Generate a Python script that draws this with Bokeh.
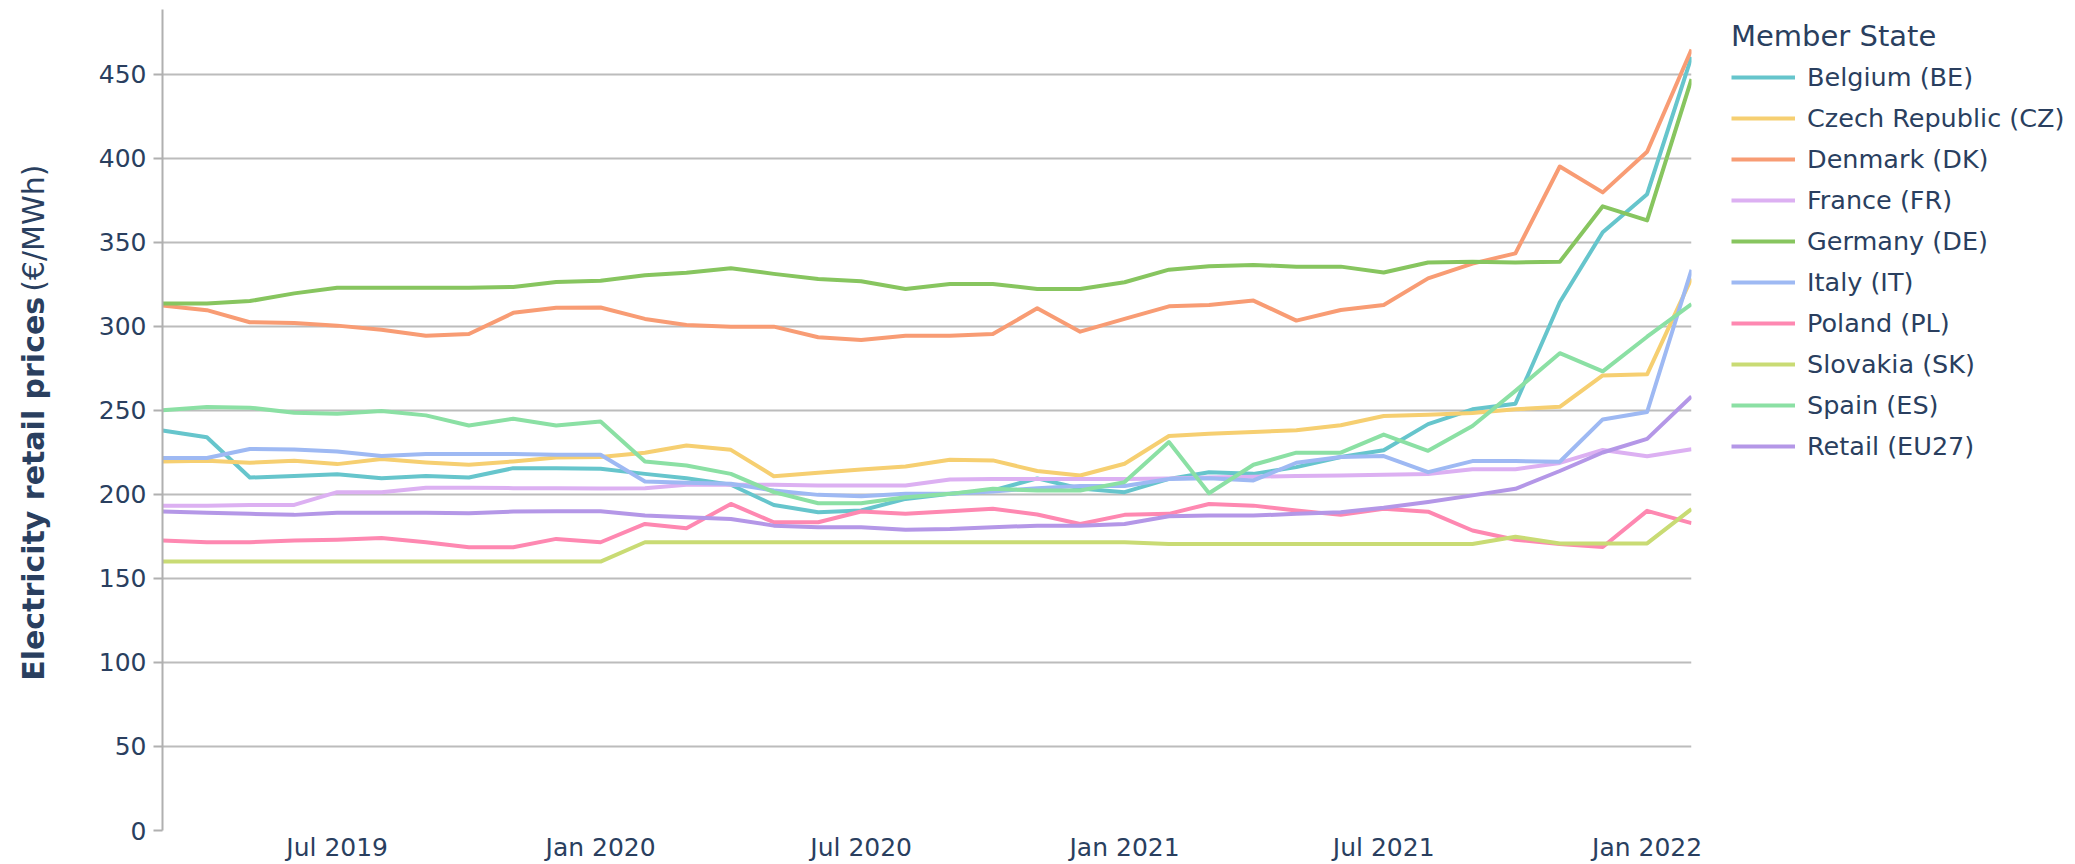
import math
import pandas as pd
from bokeh.plotting import figure
from bokeh.layouts import row
from bokeh.models import (Range1d, FixedTicker, DatetimeTickFormatter, Legend,
                          LegendItem, Label, ColumnDataSource)
from bokeh.embed import file_html
from bokeh.resources import INLINE

# ---------------- data ----------------
months = pd.date_range("2019-03-01", "2022-02-01", freq="MS")

belgium = [238, 234, 210, 211, 212, 209.6, 211, 210, 215.6, 215.6, 215.3, 212.2,
           209.6, 205.7, 193.7, 189.4, 190.4, 197.3, 200.3, 202.3, 209.5, 203.5,
           201.3, 209.2, 213.2, 212.2, 216.2, 222.2, 226.3, 241.8, 250.6, 253.9,
           314.3, 356, 378.6, 460.3]
czech = [219.6, 220, 218.8, 220, 218, 221, 219, 217.6, 219.6, 222, 222.2, 224.8,
         229.1, 226.5, 210.8, 212.8, 214.8, 216.6, 220.6, 220.2, 213.9, 211.2,
         218.2, 234.7, 236.1, 237.1, 238.1, 241.1, 246.6, 247.3, 248.4, 250.6,
         252.1, 270.8, 271.4, 328.5]
denmark = [312.4, 309.6, 302.4, 302, 300.4, 298, 294.4, 295.4, 308, 311, 311.2, 304.4,
           300.8, 299.8, 299.8, 293.5, 291.9, 294.4, 294.4, 295.4, 310.7, 296.8,
           304.4, 311.9, 312.7, 315.3, 303.4, 309.7, 312.7, 328.5, 337.3, 343.4,
           395.1, 379.7, 403.9, 464.7]
france = [193.3, 193.3, 193.7, 193.7, 201.3, 201.3, 204, 204, 203.7, 203.7, 203.5, 203.7,
          205.7, 205.7, 205.7, 205.3, 205.3, 205.3, 208.8, 209.2, 209.2, 209.2,
          209.2, 209.5, 210, 210.5, 211, 211.3, 211.7, 212.1, 215, 215,
          218.7, 226.4, 222.7, 226.8]
germany = [313.6, 313.6, 315, 319.6, 323, 323, 323, 323, 323.4, 326.4, 327.1, 330.4,
           331.8, 334.5, 331.2, 328.2, 326.8, 322.2, 325.2, 325.2, 322.2, 322.2,
           326.2, 333.7, 335.7, 336.5, 335.5, 335.5, 332, 338, 338.4, 338,
           338.4, 371.4, 363, 447.1]
italy = [221.6, 221.6, 227, 226.7, 225.5, 222.8, 224, 224, 224, 223.6, 223.6, 207.7,
         206.9, 206.3, 202.3, 199.7, 198.9, 200.3, 200.3, 201.7, 203.7, 205,
         205, 209.2, 209.6, 208.3, 218.8, 222.2, 222.8, 213.2, 219.8, 219.8,
         219.4, 244.6, 249, 333.6]
poland = [172.5, 171.5, 171.5, 172.5, 173, 174, 171.5, 168.5, 168.5, 173.5, 171.5, 182.4,
          179.8, 194.3, 183.4, 183.4, 189.8, 188.4, 190, 191.4, 188, 182.4,
          187.8, 188.4, 194.3, 193.3, 190.4, 187.8, 191.4, 189.7, 178.5, 173,
          170.4, 168.7, 190.2, 182.9]
slovakia = [160, 160, 160, 160, 160, 160, 160, 160, 160, 160, 160, 171.5,
            171.5, 171.5, 171.5, 171.5, 171.5, 171.5, 171.5, 171.5, 171.5, 171.5,
            171.5, 170.5, 170.5, 170.5, 170.5, 170.5, 170.5, 170.5, 170.5, 174.8,
            170.8, 170.8, 170.8, 191.3]
spain = [250, 252, 251.6, 248.6, 248, 249.6, 247, 241, 245, 241, 243.4, 219.6,
         217.2, 212.2, 201.3, 194.7, 194.7, 198.3, 200.3, 203.3, 202.3, 202.3,
         207.3, 231.1, 200.7, 217.6, 224.8, 224.8, 235.6, 225.9, 240.7, 261.6,
         284, 273.2, 293.8, 313.2]
eu27 = [189.8, 189, 188.4, 187.8, 189, 189, 189, 188.8, 189.8, 190, 190, 187.4,
        186.4, 185.4, 181.4, 180.4, 180.4, 179, 179.4, 180.4, 181.4, 181.4,
        182.4, 187, 187.4, 187.4, 188.4, 189.4, 192.1, 195.5, 199.4, 203.3,
        213.9, 224.9, 233, 258.3]

series_names = ["Belgium (BE)", "Czech Republic (CZ)", "Denmark (DK)", "France (FR)",
                "Germany (DE)", "Italy (IT)", "Poland (PL)", "Slovakia (SK)",
                "Spain (ES)", "Retail (EU27)"]
series_values = [belgium, czech, denmark, france, germany, italy, poland,
                 slovakia, spain, eu27]
colors = ["#66C5CC", "#F6CF71", "#F89C74", "#DCB0F2", "#87C55F",
          "#9EB9F3", "#FE88B1", "#C9DB74", "#8BE0A4", "#B497E7"]

x_tick_dates = ["2019-07-01", "2020-01-01", "2020-07-01", "2021-01-01",
                "2021-07-01", "2022-01-01"]
y_ticks = [0, 50, 100, 150, 200, 250, 300, 350, 400, 450]

legend_title = "Member State"
y_title_bold = "Electricity retail prices"
y_title_unit = "(€/MWh)"

# ---------------- style ----------------
TEXT = "#2a3f5f"
GRID = "#bcbcbc"
FONT = "DejaVu Sans"
W, H = 2075, 864
TITLE_W = 60
LEGEND_X = 1721
frame_left, frame_right, frame_top, frame_bottom = 162, 1691, 9, 832
BORDER = dict(min_border_top=frame_top, min_border_bottom=H - frame_bottom)


def ms(d):
    return pd.Timestamp(d).value / 1e6


data = {"x": list(months)}
for name, vals in zip(series_names, series_values):
    data[name] = vals
src = ColumnDataSource(data)

# ---------------- y-axis title strip (frame aligned with main frame) ----------------
FH = frame_bottom - frame_top
t = figure(width=TITLE_W, height=H, output_backend="svg", toolbar_location=None,
           x_range=Range1d(0, TITLE_W), y_range=Range1d(0, FH),
           x_axis_location=None, y_axis_location=None,
           min_border_left=0, min_border_right=0, **BORDER)
t.outline_line_color = None
t.xgrid.visible = False
t.ygrid.visible = False
bold_start = 682
t.add_layout(Label(x=33, y=frame_bottom - bold_start, text=y_title_bold,
                   angle=math.pi / 2, text_align="left", text_baseline="middle",
                   text_font=FONT, text_font_size="30px",
                   text_font_style="bold", text_color=TEXT))
t.add_layout(Label(x=33, y=frame_bottom - (bold_start - 390), text=y_title_unit,
                   angle=math.pi / 2, text_align="left", text_baseline="middle",
                   text_font=FONT, text_font_size="30px",
                   text_font_style="normal", text_color=TEXT))

# ---------------- main chart ----------------
p = figure(width=LEGEND_X - TITLE_W, height=H, x_axis_type="datetime",
           output_backend="svg", toolbar_location=None,
           x_range=Range1d(ms(months[0]), ms(months[-1])),
           y_range=Range1d(0, 488.5),
           min_border_left=frame_left - TITLE_W,
           min_border_right=LEGEND_X - frame_right, **BORDER)
p.outline_line_color = None
p.background_fill_color = "white"
p.border_fill_color = "white"

p.xgrid.visible = False
p.ygrid.ticker = FixedTicker(ticks=y_ticks[1:])
p.ygrid.grid_line_color = GRID
p.ygrid.grid_line_width = 2

p.yaxis.ticker = FixedTicker(ticks=y_ticks)
p.yaxis.axis_line_color = "#b0b0b0"
p.yaxis.axis_line_width = 2
p.yaxis.major_tick_line_color = "#b0b0b0"
p.yaxis.major_tick_line_width = 2
p.yaxis.major_tick_out = 9
p.yaxis.major_tick_in = 0
p.yaxis.minor_tick_line_color = None
p.yaxis.major_label_standoff = 7
p.yaxis.major_label_text_font = FONT
p.yaxis.major_label_text_font_size = "25px"
p.yaxis.major_label_text_color = TEXT

p.xaxis.ticker = FixedTicker(ticks=[ms(d) for d in x_tick_dates])
fmt = "%b %Y"
p.xaxis.formatter = DatetimeTickFormatter(days=fmt, months=fmt, years=fmt,
                                          hours=fmt, minutes=fmt, seconds=fmt,
                                          milliseconds=fmt, microseconds=fmt,
                                          hourmin=fmt, minsec=fmt)
p.xaxis.axis_line_color = None
p.xaxis.major_tick_line_color = None
p.xaxis.minor_tick_line_color = None
p.xaxis.major_tick_out = 0
p.xaxis.major_tick_in = 0
p.xaxis.major_label_standoff = 2
p.xaxis.major_label_text_font = FONT
p.xaxis.major_label_text_font_size = "25px"
p.xaxis.major_label_text_color = TEXT

for name, col in zip(series_names, colors):
    p.line(x="x", y=name, source=src, line_color=col, line_width=4,
           line_join="round")

# ---------------- legend strip ----------------
# the legend proxies use the same series, but this strip's ranges keep them out of view
lf = figure(width=W - LEGEND_X, height=H, output_backend="svg",
            toolbar_location=None, x_range=Range1d(0, 1), y_range=Range1d(0, 1),
            x_axis_location=None, y_axis_location=None,
            min_border_left=0, min_border_right=0, **BORDER)
lf.outline_line_color = None
lf.xgrid.visible = False
lf.ygrid.visible = False
items = []
for name, col in zip(series_names, colors):
    r = lf.line(x="x", y=name, source=src, line_color=col, line_width=4)
    items.append(LegendItem(label=name, renderers=[r]))

legend = Legend(items=items, title=legend_title, location="top_left",
                title_text_font=FONT, title_text_font_size="29px",
                title_text_color=TEXT, title_text_font_style="normal",
                title_standoff=9,
                label_text_font=FONT, label_text_font_size="25.5px",
                label_text_color=TEXT, label_standoff=12,
                glyph_width=64, glyph_height=30, label_height=30,
                spacing=11, padding=0, margin=10,
                border_line_color=None, background_fill_alpha=0)
lf.add_layout(legend)

layout = row(t, p, lf)
open("out.html", "w").write(file_html(layout, INLINE))
